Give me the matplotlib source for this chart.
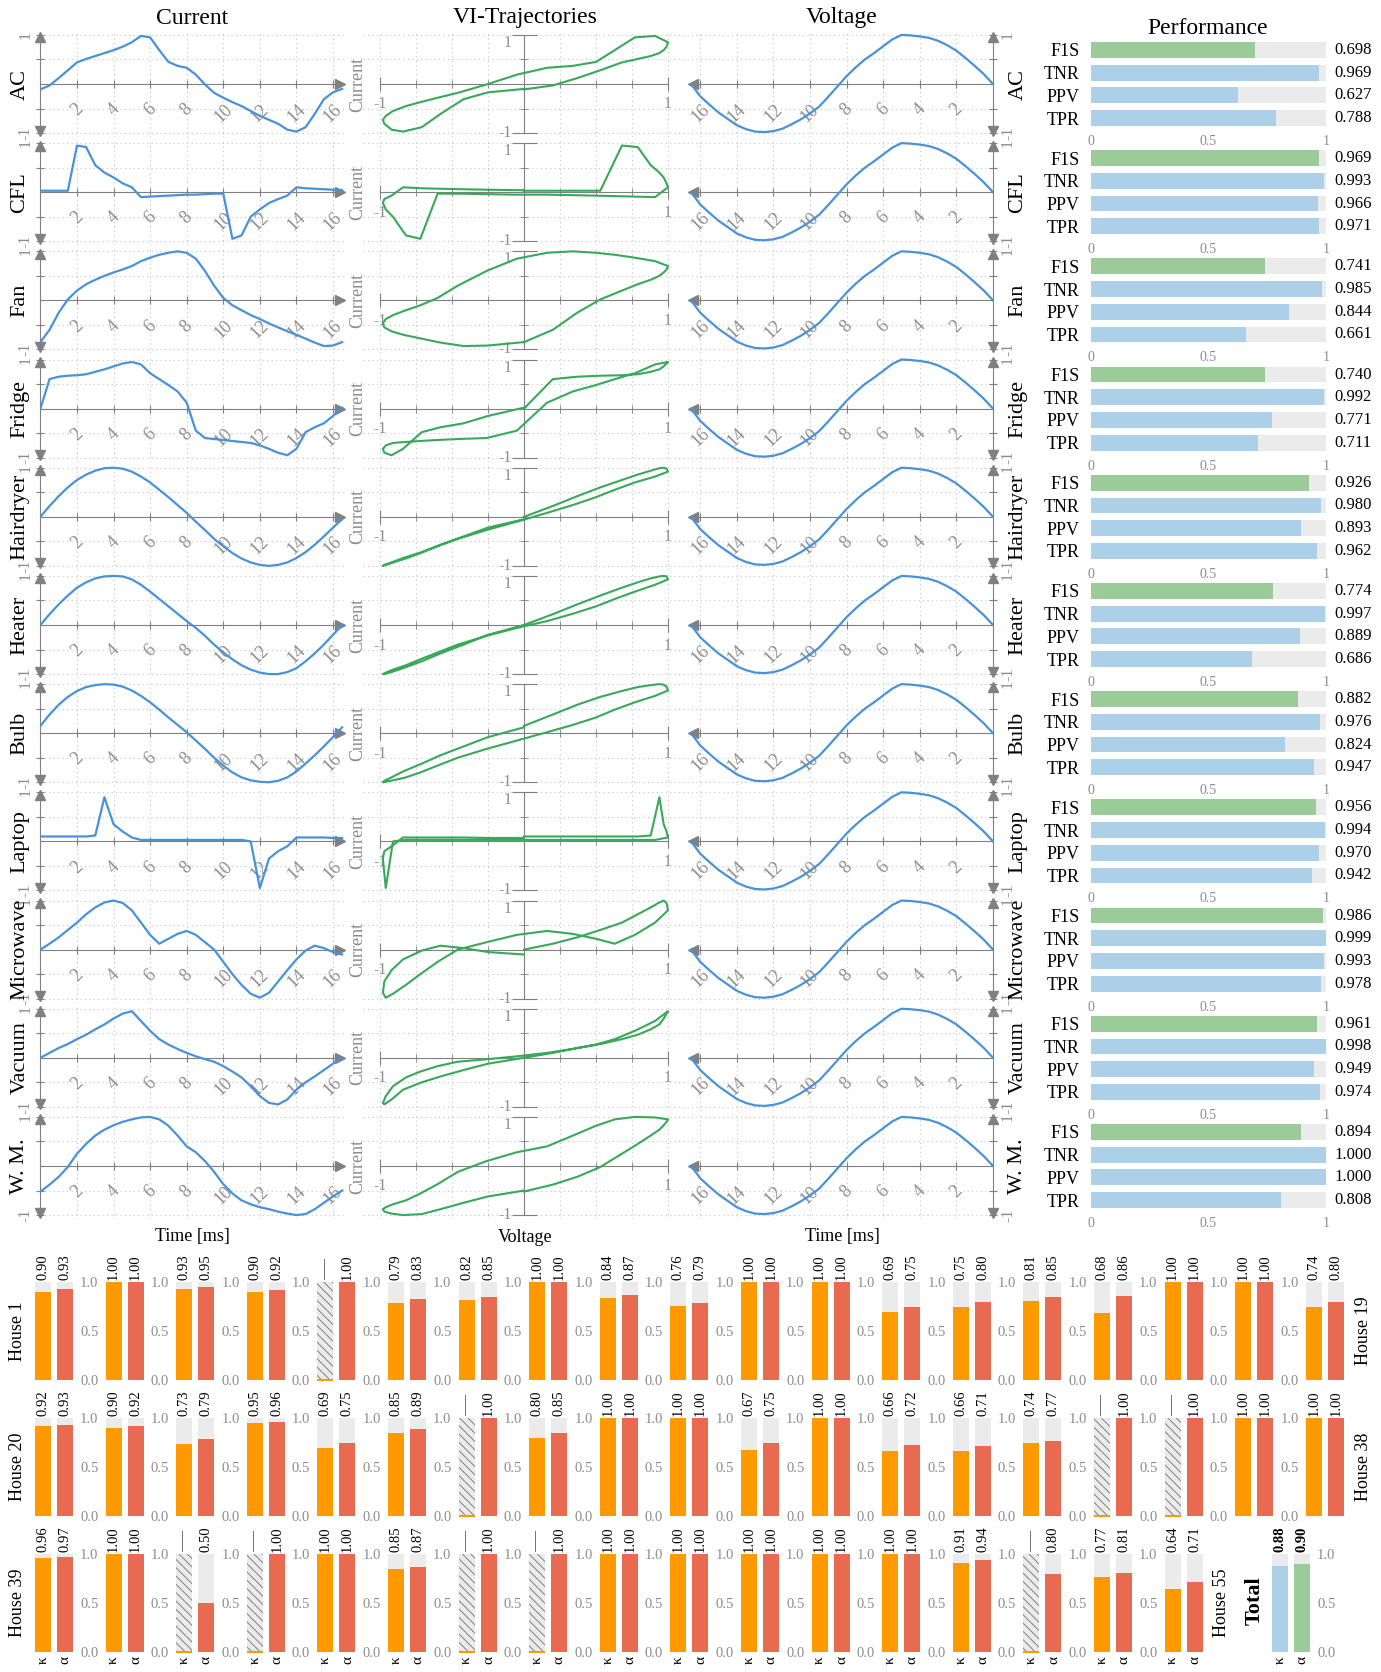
import numpy as np
import matplotlib.pyplot as plt

plt.rcParams['font.family'] = ['Liberation Serif', 'DejaVu Serif']
plt.rcParams['hatch.color'] = '#808080'
plt.rcParams['hatch.linewidth'] = 0.7

# one mains period, values every 0.5 ms
time_ms = [0, 0.5, 1, 1.5, 2, 2.5, 3, 3.5, 4, 4.5, 5, 5.5, 6, 6.5, 7, 7.5, 8,
           8.5, 9, 9.5, 10, 10.5, 11, 11.5, 12, 12.5, 13, 13.5, 14, 14.5, 15,
           15.5, 16, 16.5]
voltage = [0.0, 0.2, 0.37, 0.53, 0.68, 0.79, 0.88, 0.94, 0.97, 0.99, 1.0, 0.91,
           0.77, 0.63, 0.5, 0.34, 0.16, -0.05, -0.26, -0.46, -0.6, -0.72, -0.82,
           -0.91, -0.96, -0.98, -0.97, -0.92, -0.84, -0.71, -0.58, -0.42, -0.25, 0.0]

current_ac = [-0.11, -0.03, 0.12, 0.28, 0.44, 0.51, 0.57, 0.63, 0.69, 0.76, 0.85, 0.98,
              0.95, 0.69, 0.45, 0.37, 0.33, 0.19, -0.01, -0.18, -0.28, -0.37, -0.45,
              -0.55, -0.65, -0.73, -0.81, -0.93, -0.97, -0.88, -0.61, -0.31, -0.17, -0.1]
current_cfl = [0.03, 0.03, 0.03, 0.03, 0.95, 0.92, 0.55, 0.4, 0.3, 0.18, 0.1, -0.1,
               -0.09, -0.08, -0.07, -0.06, -0.05, -0.05, -0.04, -0.03, -0.03, -0.95,
               -0.88, -0.5, -0.35, -0.22, -0.14, -0.07, 0.1, 0.08, 0.07, 0.06, 0.05, 0.04]
current_fan = [-0.85, -0.6, -0.25, 0.02, 0.2, 0.33, 0.42, 0.5, 0.57, 0.63, 0.7, 0.8,
               0.87, 0.93, 0.97, 1.0, 0.97, 0.85, 0.6, 0.3, 0.05, -0.1, -0.2, -0.3,
               -0.38, -0.47, -0.55, -0.63, -0.7, -0.78, -0.86, -0.93, -0.92, -0.85]
current_fridge = [0.0, 0.6, 0.65, 0.67, 0.68, 0.7, 0.75, 0.8, 0.86, 0.92, 0.95, 0.9,
                  0.72, 0.6, 0.48, 0.35, 0.12, -0.45, -0.6, -0.62, -0.64, -0.66, -0.68,
                  -0.7, -0.75, -0.82, -0.9, -0.95, -0.82, -0.48, -0.38, -0.3, -0.15, 0.02]
current_hairdryer = [0.0, 0.22, 0.42, 0.6, 0.75, 0.86, 0.94, 0.99, 1.0, 0.98, 0.92,
                     0.82, 0.7, 0.55, 0.4, 0.24, 0.08, -0.1, -0.27, -0.45, -0.6, -0.74,
                     -0.85, -0.93, -0.98, -1.0, -0.98, -0.93, -0.84, -0.72, -0.57, -0.4,
                     -0.22, -0.05]
current_heater = [0.0, 0.22, 0.42, 0.6, 0.76, 0.87, 0.95, 0.99, 1.0, 0.99, 0.93, 0.82,
                  0.68, 0.53, 0.38, 0.23, 0.08, -0.06, -0.22, -0.4, -0.56, -0.7, -0.82,
                  -0.91, -0.97, -1.0, -1.0, -0.96, -0.88, -0.74, -0.58, -0.4, -0.2, 0.0]
current_bulb = [0.15, 0.38, 0.58, 0.74, 0.86, 0.94, 0.98, 1.0, 0.99, 0.95, 0.87, 0.76,
                0.63, 0.48, 0.32, 0.17, 0.02, -0.15, -0.32, -0.5, -0.66, -0.8, -0.9,
                -0.96, -0.99, -1.0, -0.97, -0.9, -0.78, -0.62, -0.45, -0.27, -0.08, 0.12]
current_laptop = [0.1, 0.1, 0.1, 0.1, 0.1, 0.1, 0.12, 0.9, 0.35, 0.2, 0.08, 0.03,
                  0.03, 0.03, 0.03, 0.03, 0.03, 0.03, 0.03, 0.03, 0.03, 0.03, 0.03,
                  0.0, -0.95, -0.35, -0.2, -0.1, 0.08, 0.08, 0.08, 0.08, 0.07, 0.07]
current_microwave = [0.0, 0.12, 0.25, 0.4, 0.55, 0.72, 0.86, 0.96, 1.0, 0.95, 0.8,
                     0.55, 0.3, 0.12, 0.22, 0.32, 0.38, 0.3, 0.15, 0.0, -0.25, -0.5,
                     -0.72, -0.9, -0.98, -0.88, -0.65, -0.42, -0.2, -0.02, 0.08, 0.03,
                     -0.05, -0.1]
current_vacuum = [0.0, 0.1, 0.2, 0.28, 0.38, 0.47, 0.58, 0.68, 0.8, 0.9, 0.95, 0.75,
                  0.55, 0.38, 0.27, 0.18, 0.1, 0.03, -0.03, -0.08, -0.17, -0.28, -0.4,
                  -0.58, -0.78, -0.92, -0.95, -0.85, -0.65, -0.5, -0.38, -0.25, -0.12, 0.0]
current_wm = [-0.52, -0.38, -0.22, -0.02, 0.25, 0.45, 0.62, 0.74, 0.83, 0.9, 0.95, 0.99,
              1.0, 0.95, 0.82, 0.62, 0.4, 0.28, 0.1, -0.12, -0.37, -0.56, -0.7, -0.78,
              -0.84, -0.88, -0.93, -0.97, -1.0, -0.98, -0.88, -0.75, -0.62, -0.5]

appliances = ['AC', 'CFL', 'Fan', 'Fridge', 'Hairdryer', 'Heater', 'Bulb', 'Laptop',
              'Microwave', 'Vacuum', 'W. M.']
currents = [current_ac, current_cfl, current_fan, current_fridge, current_hairdryer,
            current_heater, current_bulb, current_laptop, current_microwave,
            current_vacuum, current_wm]
time_ticks = [2, 4, 6, 8, 10, 12, 14, 16]

# performance per appliance
perf_metrics = ['F1S', 'TNR', 'PPV', 'TPR']
f1s = [0.698, 0.969, 0.741, 0.740, 0.926, 0.774, 0.882, 0.956, 0.986, 0.961, 0.894]
tnr = [0.969, 0.993, 0.985, 0.992, 0.980, 0.997, 0.976, 0.994, 0.999, 0.998, 1.000]
ppv = [0.627, 0.966, 0.844, 0.771, 0.893, 0.889, 0.824, 0.970, 0.993, 0.949, 1.000]
tpr = [0.788, 0.971, 0.661, 0.711, 0.962, 0.686, 0.947, 0.942, 0.978, 0.974, 0.808]

# per-house scores (None = not defined)
house_kappa = [0.90, 1.00, 0.93, 0.90, None, 0.79, 0.82, 1.00, 0.84, 0.76, 1.00, 1.00,
               0.69, 0.75, 0.81, 0.68, 1.00, 1.00, 0.74,
               0.92, 0.90, 0.73, 0.95, 0.69, 0.85, None, 0.80, 1.00, 1.00, 0.67, 1.00,
               0.66, 0.66, 0.74, None, None, 1.00, 1.00,
               0.96, 1.00, None, None, 1.00, 0.85, None, None, 1.00, 1.00, 1.00, 1.00,
               1.00, 0.91, None, 0.77, 0.64]
house_alpha = [0.93, 1.00, 0.95, 0.92, 1.00, 0.83, 0.85, 1.00, 0.87, 0.79, 1.00, 1.00,
               0.75, 0.80, 0.85, 0.86, 1.00, 1.00, 0.80,
               0.93, 0.92, 0.79, 0.96, 0.75, 0.89, 1.00, 0.85, 1.00, 1.00, 0.75, 1.00,
               0.72, 0.71, 0.77, 1.00, 1.00, 1.00, 1.00,
               0.97, 1.00, 0.50, 1.00, 1.00, 0.87, 1.00, 1.00, 1.00, 1.00, 1.00, 1.00,
               1.00, 0.94, 0.80, 0.81, 0.71]
house_rows = [(1, 19), (20, 38), (39, 55)]
total_kappa = 0.88
total_alpha = 0.90

GREY = '#808080'
TICKGREY = '#8c8c8c'
GRID = '#c4c4c4'
BLUE = '#4a92d8'
GREEN = '#3aa85a'
BLUE_L = '#abd0e8'
GREEN_L = '#9acb98'
BG = '#ebebeb'
ORANGE = '#ff9900'
RED = '#e86a50'

W, H = 1381, 1672
fig = plt.figure(figsize=(W / 100, H / 100), dpi=100)


def px_axes(x, y, w, h):
    return fig.add_axes([x / W, 1 - (y + h) / H, w / W, h / H])


def px_text(x, y, s, **kw):
    kw.setdefault('ha', 'center')
    kw.setdefault('va', 'center')
    fig.text(x / W, 1 - y / H, s, **kw)


def time_axis(ax, right):
    ax.set_ylim(-1.08, 1.08)
    side = 'right' if right else 'left'
    for s in ['top', 'right', 'left']:
        ax.spines[s].set_visible(s == side)
    ax.spines[side].set_bounds(-0.95, 0.95)
    ax.spines['bottom'].set_position(('data', 0))
    ax.spines['bottom'].set_bounds(0, 16.4)
    for s in ax.spines.values():
        s.set_color(GREY)
    ax.plot([16.4], [0], marker='<' if right else '>', color=GREY, ms=7, clip_on=False)
    ax.plot([0], [0.95], marker='^', color=GREY, ms=7, clip_on=False)
    ax.plot([0], [-0.95], marker='v', color=GREY, ms=7, clip_on=False)
    ax.set_xticks(time_ticks)
    ax.set_xticklabels([str(t) for t in time_ticks], rotation=45, ha='center', va='top')
    ax.set_yticks([-1, -0.5, 0.5, 1])
    ax.set_yticklabels(['-1', '', '', '1'], rotation=90, va='center')
    if right:
        ax.yaxis.tick_right()
    ax.tick_params(direction='inout', length=6, color=GREY, labelcolor=TICKGREY)
    ax.tick_params(axis='x', pad=9, labelsize=13)
    ax.tick_params(axis='y', pad=2, labelsize=11.5)
    ax.grid(True, ls=(0, (1, 3)), color=GRID, lw=0.8)
    ax.set_axisbelow(True)


ROW = 108.2
t = np.array(time_ms)
v = np.array(voltage)
for k, (name, cur) in enumerate(zip(appliances, currents)):
    yc = 84 + ROW * k
    cur = np.array(cur)

    # current over time
    ax = px_axes(40.4, yc - 53, 305.4, 106)
    ax.set_xlim(0, 16.7)
    ax.plot(t, cur, color=BLUE, lw=1.6, zorder=3)
    time_axis(ax, right=False)
    px_text(20, yc, name, rotation=90, size=16)

    # VI trajectory
    ax = px_axes(524 - 1.12 * 144, yc - 53, 2.24 * 144, 106)
    ax.set_xlim(-1.12, 1.12)
    ax.set_ylim(-1.08, 1.08)
    ax.plot(v, cur, color=GREEN, lw=1.5, zorder=3)
    for s in ['top', 'right']:
        ax.spines[s].set_visible(False)
    for s in ['left', 'bottom']:
        ax.spines[s].set_position(('data', 0))
        ax.spines[s].set_bounds(-1, 1)
        ax.spines[s].set_color(GREY)
    ax.set_xticks([-1, 1])
    ax.set_xticklabels(['-1', '1'])
    ax.set_xticks([-0.75, -0.5, -0.25, 0.25, 0.5, 0.75], minor=True)
    ax.set_yticks([-1, 1])
    ax.set_yticklabels(['-1', '1'])
    for lab, va in zip(ax.get_yticklabels(), ['center', 'top']):
        lab.set_va(va)
    ax.set_yticks([-0.5, 0.5], minor=True)
    ax.tick_params(which='both', direction='inout', color=GREY, labelcolor=TICKGREY,
                   labelsize=11.5)
    ax.tick_params(axis='x', which='major', length=10, pad=4)
    ax.tick_params(axis='y', which='major', length=18, pad=0)
    ax.tick_params(which='minor', length=6)
    ax.grid(True, which='both', ls=(0, (1, 3)), color=GRID, lw=0.8)
    ax.set_axisbelow(True)
    px_text(358, yc, 'Current', rotation=90, size=13, color=TICKGREY)

    # voltage over time (reversed)
    ax = px_axes(993 - 16.7 * 18.3, yc - 53, 16.7 * 18.3, 106)
    ax.set_xlim(16.7, 0)
    ax.plot(t, v, color=BLUE, lw=1.6, zorder=3)
    time_axis(ax, right=True)
    px_text(1018, yc, name, rotation=90, size=16)

    # performance bars
    ax = px_axes(1091, 38.6 + ROW * k, 235, 90.8)
    vals = [f1s[k], tnr[k], ppv[k], tpr[k]]
    ypos = np.arange(len(perf_metrics))
    ax.barh(ypos, np.ones(len(vals)), height=0.7, color=BG)
    ax.barh(ypos, vals, height=0.7, color=[GREEN_L, BLUE_L, BLUE_L, BLUE_L])
    for i, val in enumerate(vals):
        ax.text(1.035, i, f'{val:.3f}', ha='left', va='center', size=12)
    ax.set_xlim(0, 1)
    ax.set_ylim(3.5, -0.5)
    ax.set_yticks(ypos)
    ax.set_yticklabels(perf_metrics)
    ax.set_xticks([0, 0.5, 1])
    ax.set_xticklabels(['0', '0.5', '1'])
    ax.tick_params(axis='y', length=0, pad=8, labelsize=13)
    ax.tick_params(axis='x', length=0, pad=4, labelsize=10, labelcolor=TICKGREY)
    for s in ax.spines.values():
        s.set_visible(False)

px_text(192, 18, 'Current', size=17)
px_text(525, 18, 'VI-Trajectories', size=17)
px_text(842, 18, 'Voltage', size=17)
px_text(1208, 28, 'Performance', size=17)
px_text(192, 1237, 'Time [ms]', size=13)
px_text(525, 1237, 'Voltage', size=13)
px_text(842, 1237, 'Time [ms]', size=13)


def score_panel(x, y, kap, alp, cols, ticks, xlabels, bold=False):
    ax = px_axes(x, y, 44, 98)
    ax.bar([0, 1], [1, 1], width=0.72, color=BG, zorder=1)
    weight = 'bold' if bold else 'normal'
    if kap is None:
        ax.bar(0, 1, width=0.72, color=BG, edgecolor=GREY, lw=0, hatch='\\\\\\\\', zorder=2)
        ax.bar(0, 0, width=0.72, color=cols[0], edgecolor=cols[0], lw=1.5, zorder=3,
               clip_on=False)
        ax.text(0, 1.02, '—', rotation=90, ha='center', va='bottom', size=15, color='#555555')
    else:
        ax.bar(0, kap, width=0.72, color=cols[0], zorder=3)
        ax.text(0, 1.02, f'{kap:.2f}', rotation=90, ha='center', va='bottom', size=10.5,
                weight=weight)
    ax.bar(1, alp, width=0.72, color=cols[1], zorder=3)
    ax.text(1, 1.02, f'{alp:.2f}', rotation=90, ha='center', va='bottom', size=10.5,
            weight=weight)
    ax.set_xlim(-0.5, 1.5)
    ax.set_ylim(0, 1)
    for s in ax.spines.values():
        s.set_visible(False)
    if ticks:
        ax.yaxis.tick_right()
        ax.set_yticks([0, 0.5, 1])
        ax.set_yticklabels(['0.0', '0.5', '1.0'])
        ax.tick_params(axis='y', length=0, pad=3, labelsize=10.5, labelcolor=TICKGREY)
    else:
        ax.set_yticks([])
    if xlabels:
        ax.set_xticks([0, 1])
        ax.set_xticklabels(['κ', 'α'], rotation=90)
        ax.tick_params(axis='x', length=0, pad=3, labelsize=11)
    else:
        ax.set_xticks([])


for r, (first, last) in enumerate(house_rows):
    ytop = 1282 + 136 * r
    n = last - first + 1
    for c in range(n):
        h = first + c - 1
        score_panel(32 + 70.6 * c, ytop, house_kappa[h], house_alpha[h], (ORANGE, RED),
                    ticks=c < n - 1, xlabels=(r == 2))
    px_text(18, ytop + 49, f'House {first}', rotation=90, size=13)
    right_x = 1363 if r < 2 else 1222
    px_text(right_x, ytop + 49, f'House {last}', rotation=90, size=13)

score_panel(1269, 1554, total_kappa, total_alpha, (BLUE_L, GREEN_L), ticks=True,
            xlabels=True, bold=True)
px_text(1255, 1601, 'Total', rotation=90, size=16, weight='bold')

fig.savefig('out.png', dpi=100, facecolor='white')
